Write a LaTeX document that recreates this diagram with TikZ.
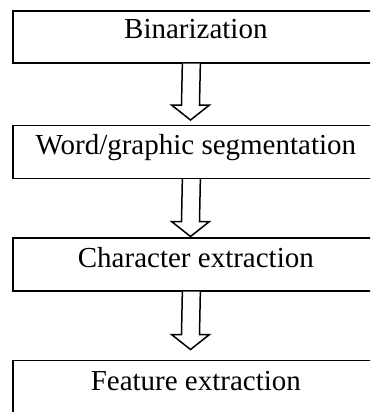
\documentclass[tikz,border=0pt]{standalone}
\usepackage{fontspec}
\setmainfont{Liberation Serif}
\usetikzlibrary{calc}
\tikzset{
  stagebox/.style={draw=black, line width=1.7pt, rectangle, anchor=north west,
    minimum width=366pt, inner sep=0pt, align=center,
    font=\fontsize{29}{34}\selectfont},
  hollowarr/.style={draw=black, line width=1.5pt, fill=white, line join=miter}
}
\newcommand{\hollowarrow}[2]{%
  \draw[hollowarr] ($(#1)+(-9,0)$) -- ($(#2)+(-9,-15)$) -- ($(#2)+(-19,-15)$)
    -- (#2) -- ($(#2)+(19,-15)$) -- ($(#2)+(9,-15)$) -- ($(#1)+(9,0)$);}
\begin{document}
\begin{tikzpicture}[x=1pt,y=-1pt]
\useasboundingbox (0,0) rectangle (370,412);
\clip (0,0) rectangle (370,412);
\node[stagebox, minimum height=52pt, text height=28pt, text depth=24pt] (b1) at (12,10) {Binarization};
\node[stagebox, minimum height=53pt, text height=29.5pt, text depth=23.5pt] (b2) at (12,124.5) {Word/graphic segmentation};
\node[stagebox, minimum height=53pt, text height=29.5pt, text depth=23.5pt] (b3) at (12,237) {Character extraction};
\node[stagebox, minimum height=53pt, text height=30.5pt, text depth=22.5pt] (b4) at (12,359.5) {Feature extraction};
\coordinate (t1) at ([xshift=-4.5pt]b1.south);
\coordinate (h1) at (190.5,120);
\coordinate (t2) at ([xshift=-4.5pt]b2.south);
\coordinate (h2) at (190.5,236.5);
\coordinate (t3) at ([xshift=-4.5pt]b3.south);
\coordinate (h3) at (190.5,349.5);
\hollowarrow{t1}{h1}
\hollowarrow{t2}{h2}
\hollowarrow{t3}{h3}
\end{tikzpicture}
\end{document}
